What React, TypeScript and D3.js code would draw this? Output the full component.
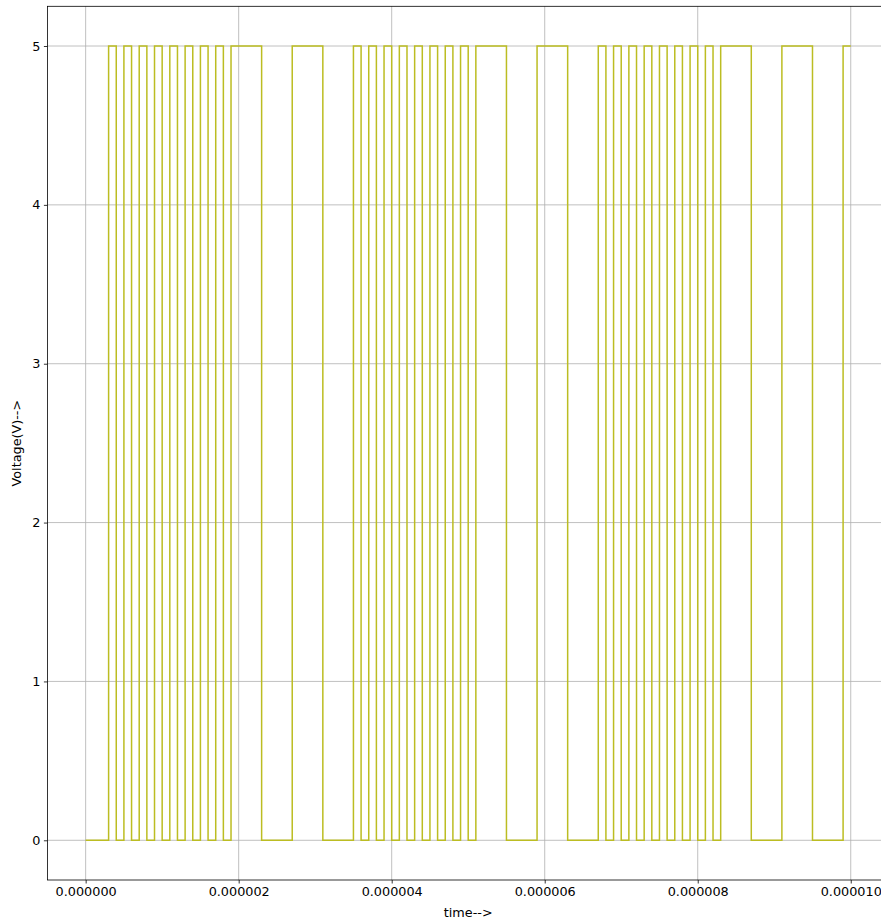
import React, { useEffect, useRef } from 'react';
import * as d3 from 'd3';

// switching instants (microseconds) and the level that starts at each one
const timesUs = [
  0, 0.3, 0.4, 0.5, 0.6, 0.7, 0.8, 0.9, 1.0, 1.1, 1.2, 1.3, 1.4, 1.5, 1.6, 1.7, 1.8, 1.9,
  2.3, 2.7, 3.1,
  3.5, 3.6, 3.7, 3.8, 3.9, 4.0, 4.1, 4.2, 4.3, 4.4, 4.5, 4.6, 4.7, 4.8, 4.9, 5.0, 5.1,
  5.5, 5.9, 6.3,
  6.7, 6.8, 6.9, 7.0, 7.1, 7.2, 7.3, 7.4, 7.5, 7.6, 7.7, 7.8, 7.9, 8.0, 8.1, 8.2, 8.3,
  8.7, 9.1, 9.5, 9.9, 10.0,
];
const voltage = [
  0, 5, 0, 5, 0, 5, 0, 5, 0, 5, 0, 5, 0, 5, 0, 5, 0, 5,
  0, 5, 0,
  5, 0, 5, 0, 5, 0, 5, 0, 5, 0, 5, 0, 5, 0, 5, 0, 5,
  0, 5, 0,
  5, 0, 5, 0, 5, 0, 5, 0, 5, 0, 5, 0, 5, 0, 5, 0, 5,
  0, 5, 0, 5, 5,
];
const xTicks = [0, 2e-6, 4e-6, 6e-6, 8e-6, 10e-6];
const yTicks = [0, 1, 2, 3, 4, 5];

const App = () => {
  const svgRef = useRef<SVGSVGElement>(null);

  useEffect(() => {
    const width = 881;
    const height = 923;
    const left = 47.4;
    const right = 889;
    const top = 6.3;
    const bottom = 880;
    const font = 'DejaVu Sans, sans-serif';
    const fs = 12.8;

    const svg = d3.select(svgRef.current);
    svg.selectAll('*').remove();
    svg.attr('width', width).attr('height', height);

    const x = d3.scaleLinear().domain([-0.5e-6, 10.5e-6]).range([left, right]);
    const y = d3.scaleLinear().domain([-0.25, 5.25]).range([bottom, top]);

    // grid
    svg.append('g')
      .selectAll('line')
      .data(xTicks)
      .join('line')
      .attr('x1', (d) => x(d)).attr('x2', (d) => x(d))
      .attr('y1', top).attr('y2', bottom)
      .attr('stroke', '#b0b0b0').attr('stroke-width', 0.8);
    svg.append('g')
      .selectAll('line')
      .data(yTicks)
      .join('line')
      .attr('x1', left).attr('x2', right)
      .attr('y1', (d) => y(d)).attr('y2', (d) => y(d))
      .attr('stroke', '#b0b0b0').attr('stroke-width', 0.8);

    // signal
    const pts = timesUs.map((t, i) => [t * 1e-6, voltage[i]] as [number, number]);
    const line = d3.line<[number, number]>()
      .x((d) => x(d[0]))
      .y((d) => y(d[1]))
      .curve(d3.curveStepAfter);
    svg.append('path')
      .datum(pts)
      .attr('d', line)
      .attr('fill', 'none')
      .attr('stroke', '#bcbd22')
      .attr('stroke-width', 1.5);

    // axes
    const xAxis = svg.append('g')
      .attr('transform', `translate(0,${bottom})`)
      .call(d3.axisBottom(x).tickValues(xTicks).tickFormat(d3.format('.6f')).tickSizeInner(3.5).tickSizeOuter(0).tickPadding(3.5));
    const yAxis = svg.append('g')
      .attr('transform', `translate(${left},0)`)
      .call(d3.axisLeft(y).tickValues(yTicks).tickFormat(d3.format('d')).tickSizeInner(3.5).tickSizeOuter(0).tickPadding(3.5));
    [xAxis, yAxis].forEach((a) => {
      a.select('.domain').remove();
      a.selectAll('line').attr('stroke', '#000').attr('stroke-width', 0.8);
      a.selectAll('text').attr('fill', '#000').attr('font-family', font).attr('font-size', fs);
    });

    // spines
    svg.append('rect')
      .attr('x', left).attr('y', top)
      .attr('width', right - left).attr('height', bottom - top)
      .attr('fill', 'none').attr('stroke', '#000').attr('stroke-width', 0.8);

    // labels
    svg.append('text')
      .attr('x', (left + right) / 2).attr('y', 917)
      .attr('text-anchor', 'middle')
      .attr('font-family', font).attr('font-size', fs)
      .text('time-->');
    svg.append('text')
      .attr('transform', `translate(21,${(top + bottom) / 2}) rotate(-90)`)
      .attr('text-anchor', 'middle')
      .attr('font-family', font).attr('font-size', fs)
      .text('Voltage(V)-->');
  }, []);

  return (
    <div style={{ position: 'absolute', left: 0, top: 0 }}>
      <svg ref={svgRef}></svg>
    </div>
  );
};

export default App;
